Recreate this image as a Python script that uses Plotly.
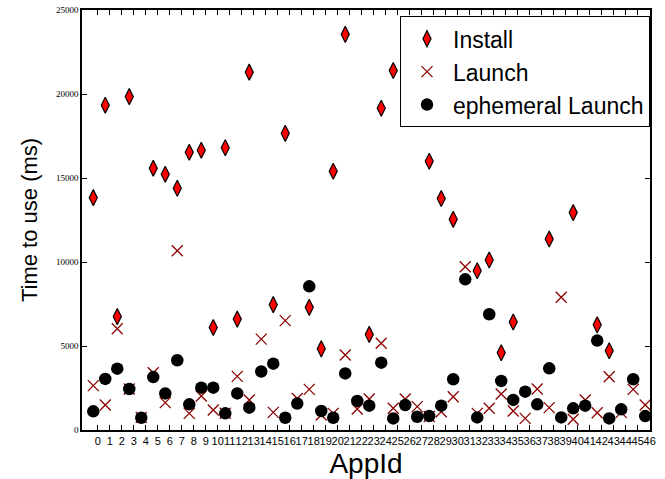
import plotly.graph_objects as go

app_ids = list(range(47))
tick_labels = [str(i) for i in app_ids]

install = [13830, 19330, 6750, 19840, None, 15580, 15220, 14390, 16530, 16650,
           6100, 16800, 6600, 21300, None, 7460, 17660, None, 7300, 4830,
           15400, 23550, None, 5690, 19150, 21400, None, None, 16000, 13780,
           12540, None, 9480, 10120, 4600, 6430, None, None, 11370, None,
           12940, 18750, 6260, 4720, None, None, None]

launch = [2640, 1490, 6030, 2440, 750, 3410, 1630, 10670, 990, 2020,
          1190, 1000, 3190, 1790, 5410, 1050, 6510, 1880, 2420, 890,
          990, 4460, 1250, 1850, 5160, 1290, 1850, 1390, 800, 1090,
          1980, 9720, 990, 1290, 2140, 1130, 690, 2440, 1330, 7900,
          640, 1790, 1030, 3170, 1050, 2420, 1490]

ephemeral = [1110, 3040, 3650, 2440, 730, 3150, 2180, 4150, 1530, 2520,
             2520, 990, 2180, 1330, 3480, 3950, 730, 1570, 8550, 1130,
             730, 3370, 1730, 1450, 4010, 690, 1490, 790, 830, 1450,
             3020, 8970, 750, 6890, 2920, 1790, 2280, 1530, 3670, 750,
             1290, 1450, 5320, 690, 1230, 3020, 830]

y_ticks = [0, 5000, 10000, 15000, 20000, 25000]
TICK_OFFSET = 0.37

FONT = "Liberation Sans"

fig = go.Figure()
fig.add_trace(go.Scatter(
    x=app_ids, y=install, mode="markers", name="Install",
    marker=dict(symbol="diamond-tall", size=11.5, color="#ff0000",
                line=dict(color="black", width=1.2)),
))
fig.add_trace(go.Scatter(
    x=app_ids, y=launch, mode="markers", name="Launch",
    marker=dict(symbol="x-thin", size=11, color="#8b0000",
                line=dict(color="#8b0000", width=1.3)),
))
fig.add_trace(go.Scatter(
    x=app_ids, y=ephemeral, mode="markers", name="ephemeral Launch",
    marker=dict(symbol="circle", size=12.5, color="black",
                line=dict(width=0)),
))

fig.update_layout(
    width=665, height=479,
    margin=dict(l=82, r=15, t=10, b=49, autoexpand=False),
    paper_bgcolor="white", plot_bgcolor="white",
    font=dict(family=FONT, color="black"),
    showlegend=True,
    legend=dict(
        x=1, xanchor="right", y=0.985, yanchor="top",
        bgcolor="white", bordercolor="black", borderwidth=1,
        font=dict(family=FONT, size=23, color="black"),
        itemwidth=42, tracegroupgap=0,
    ),
)

fig.update_xaxes(
    range=[-0.94, 46.4],
    tickmode="array",
    tickvals=[i + TICK_OFFSET for i in app_ids],
    ticktext=tick_labels,
    tickangle=0,
    ticks="inside", ticklen=5, tickwidth=1, tickcolor="black",
    showline=True, linecolor="black", linewidth=1.5, mirror="ticks",
    showgrid=False, zeroline=False,
    tickfont=dict(family=FONT, size=11, color="black"),
    title=dict(text="AppId", font=dict(family=FONT, size=28, color="black"), standoff=9),
    automargin=False,
)
fig.update_yaxes(
    range=[0, 25000],
    tickmode="array",
    tickvals=y_ticks,
    ticktext=[str(v) for v in y_ticks],
    ticks="inside", ticklen=5, tickwidth=1, tickcolor="black",
    showline=True, linecolor="black", linewidth=1.5, mirror="ticks",
    showgrid=False, zeroline=False,
    tickfont=dict(family="Liberation Serif", size=9, color="black"),
    title=dict(text="Time to use (ms)", font=dict(family=FONT, size=22, color="black"), standoff=12),
    automargin=False,
)

fig.write_html("out.html", config={"displayModeBar": False},
               post_script="document.body.style.margin='0';")
